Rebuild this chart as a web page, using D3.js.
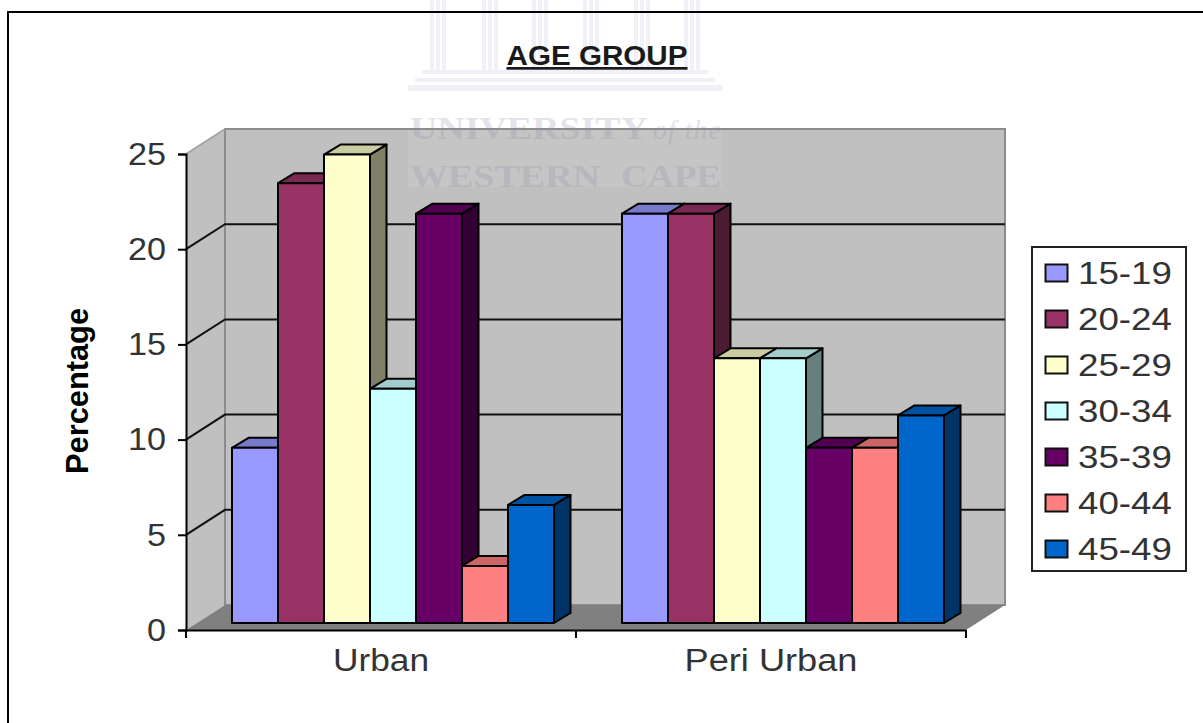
<!DOCTYPE html>
<html lang="en">
<head>
<meta charset="UTF-8">
<title>Age Group</title>
<style>
    html, body { margin: 0; padding: 0; background: #fff; }
    svg { display: block; }
    text { font-family: "Liberation Sans", Arial, sans-serif; fill: #333; }
</style>
<script src="https://d3js.org/d3.v7.min.js"></script>
</head>
<body>
<div id="chart"></div>
<script>
const categories = ["Urban", "Peri Urban"];
const ageGroups = ["15-19", "20-24", "25-29", "30-34", "35-39", "40-44", "45-49"];
const urbanValues = [9.2, 23.1, 24.6, 12.3, 21.5, 3.0, 6.2];
const periUrbanValues = [21.5, 21.5, 13.9, 13.9, 9.2, 9.2, 10.9];
const colors = ["#9999ff", "#993366", "#ffffcc", "#ccffff", "#660066", "#ff8080", "#0066cc"];
const yTicks = [0, 5, 10, 15, 20, 25];
const pillarGroups = [430, 482, 532, 583, 634, 684];

const width = 1203, height = 723;
const svg = d3.select("#chart").append("svg").attr("width", width).attr("height", height);

const y = d3.scaleLinear().domain([0, 25]).range([630, 154]);
const x = d3.scaleBand().domain(categories).range([186, 966]);
const inner = d3.scaleBand().domain(ageGroups).range([46, 368]);

// 3d offsets: wall depth and bar depth
const wallDx = 39, wallDy = -25;
const barDx = 16.5, barDy = -10;
const floorDy = -7;

function shade(c, k) {
    const r = d3.rgb(c);
    return d3.rgb(r.r * k, r.g * k, r.b * k).formatHex();
}
function poly(points) {
    return points.map(p => p.join(",")).join(" ");
}

// walls and floor
const x0 = x.range()[0], x1 = x.range()[1];
const yBase = y(0), yTop = y(25);

svg.append("polygon")
    .attr("points", poly([[x0, yTop], [x0 + wallDx, yTop + wallDy], [x0 + wallDx, yBase + wallDy], [x0, yBase]]))
    .attr("fill", "#c0c0c0");
svg.append("rect")
    .attr("x", x0 + wallDx).attr("y", yTop + wallDy)
    .attr("width", x1 - x0).attr("height", yBase - yTop)
    .attr("fill", "#c0c0c0").attr("stroke", "#8c8c8c").attr("stroke-width", 2);
svg.append("polygon")
    .attr("points", poly([[x0, yBase], [x0 + wallDx, yBase + wallDy], [x1 + wallDx, yBase + wallDy], [x1, yBase]]))
    .attr("fill", "#808080");
svg.append("line")
    .attr("x1", x0).attr("y1", yTop).attr("x2", x0 + wallDx).attr("y2", yTop + wallDy)
    .attr("stroke", "#a0a0a0").attr("stroke-width", 1.5);

// gridlines, diagonal on the side wall then across the back
const grid = svg.append("g").attr("fill", "none").attr("stroke", "#111").attr("stroke-width", 2);
yTicks.filter(t => t > 0 && t < 25).forEach(t => {
    grid.append("path")
        .attr("d", `M${x0},${y(t)}L${x0 + wallDx},${y(t) + wallDy}H${x1 + wallDx}`);
});

// watermark, sits behind the bars
const mark = svg.append("g");
mark.append("rect").attr("x", 408).attr("y", 130).attr("width", 314).attr("height", 57)
    .attr("fill", "#fff").attr("opacity", 0.08);
pillarGroups.forEach(px => {
    [0, 6, 12].forEach(off => {
        mark.append("rect").attr("x", px + off).attr("y", 0).attr("width", 4).attr("height", 70)
            .attr("fill", "#f0f0f7");
    });
});
[[422, 70, 286, 4], [415, 78, 300, 4], [408, 85, 314, 6]].forEach(s => {
    mark.append("rect").attr("x", s[0]).attr("y", s[1]).attr("width", s[2]).attr("height", s[3])
        .attr("fill", "#f0f0f7");
});
mark.append("text").attr("x", 410).attr("y", 139)
    .attr("textLength", 238).attr("lengthAdjust", "spacingAndGlyphs")
    .style("font-family", "'Liberation Serif', serif").style("font-weight", "bold")
    .style("font-size", "32px").style("fill", "#8c8ca8").attr("opacity", 0.24)
    .text("UNIVERSITY");
mark.append("text").attr("x", 653).attr("y", 139)
    .attr("textLength", 68).attr("lengthAdjust", "spacing")
    .style("font-family", "'Liberation Serif', serif").style("font-style", "italic")
    .style("font-size", "28px").style("fill", "#8c8ca8").attr("opacity", 0.24)
    .text("of the");
mark.append("text").attr("x", 410).attr("y", 187)
    .attr("textLength", 190).attr("lengthAdjust", "spacingAndGlyphs")
    .style("font-family", "'Liberation Serif', serif").style("font-weight", "bold")
    .style("font-size", "32px").style("fill", "#8c8ca8").attr("opacity", 0.24)
    .text("WESTERN");
mark.append("text").attr("x", 621).attr("y", 187)
    .attr("textLength", 100).attr("lengthAdjust", "spacingAndGlyphs")
    .style("font-family", "'Liberation Serif', serif").style("font-weight", "bold")
    .style("font-size", "32px").style("fill", "#8c8ca8").attr("opacity", 0.24)
    .text("CAPE");

// outer frame (bottom and right fall outside the picture)
svg.append("path")
    .attr("d", `M8,${height}V12H${width}`)
    .attr("fill", "none").attr("stroke", "#000").attr("stroke-width", 2);

// bars
const seriesByCategory = [urbanValues, periUrbanValues];
categories.forEach((cat, ci) => {
    const g = svg.append("g").attr("stroke", "#000").attr("stroke-width", 2).attr("stroke-linejoin", "round");
    ageGroups.forEach((age, i) => {
        const v = seriesByCategory[ci][i];
        const left = x(cat) + inner(age), w = inner.bandwidth();
        const right = left + w;
        const top = y(v) + floorDy, bottom = yBase + floorDy;
        // side face
        g.append("polygon")
            .attr("points", poly([[right, top], [right + barDx, top + barDy], [right + barDx, bottom + barDy], [right, bottom]]))
            .attr("fill", shade(colors[i], 0.5));
        // top face
        g.append("polygon")
            .attr("points", poly([[left, top], [left + barDx, top + barDy], [right + barDx, top + barDy], [right, top]]))
            .attr("fill", shade(colors[i], 0.8));
        // front face
        g.append("rect")
            .attr("x", left).attr("y", top).attr("width", w).attr("height", bottom - top)
            .attr("fill", colors[i]);
    });
});

// axes
const yAxis = svg.append("g").attr("transform", `translate(${x0},0)`)
    .call(d3.axisLeft(y).tickValues(yTicks).tickSize(8).tickPadding(12));
yAxis.select(".domain").attr("stroke", "#000").attr("stroke-width", 2);
yAxis.selectAll(".tick line").attr("stroke", "#000").attr("stroke-width", 2);
yAxis.selectAll("text")
    .style("font-size", "32px").style("font-family", "'Liberation Sans', sans-serif").attr("fill", "#333")
    .attr("textLength", d => String(d).length * 19).attr("lengthAdjust", "spacingAndGlyphs");

const xAxis = svg.append("g").attr("transform", `translate(0,${yBase})`)
    .call(d3.axisBottom(x).tickSize(0).tickPadding(19));
xAxis.select(".domain").attr("stroke", "#000").attr("stroke-width", 2);
xAxis.selectAll("text")
    .style("font-size", "31px").style("font-family", "'Liberation Sans', sans-serif").attr("fill", "#333")
    .attr("textLength", d => d === "Urban" ? 96 : 173).attr("lengthAdjust", "spacingAndGlyphs");
categories.concat([null]).forEach(cat => {
    const tx = cat === null ? x1 : x(cat);
    svg.append("line").attr("x1", tx).attr("x2", tx).attr("y1", yBase).attr("y2", yBase + 8)
        .attr("stroke", "#000").attr("stroke-width", 2);
});

// titles
svg.append("text").attr("x", 597).attr("y", 65).attr("text-anchor", "middle")
    .attr("textLength", 181).attr("lengthAdjust", "spacingAndGlyphs")
    .style("font-size", "27px").style("font-weight", "bold").style("text-decoration", "underline").style("fill", "#1a1a1a")
    .text("AGE GROUP");
svg.append("text").attr("transform", "translate(88,391) rotate(-90)").attr("text-anchor", "middle")
    .attr("textLength", 166).attr("lengthAdjust", "spacingAndGlyphs")
    .style("font-size", "31px").style("font-weight", "bold").style("fill", "#000")
    .text("Percentage");

// legend
const legendRow = d3.scalePoint().domain(ageGroups).range([273, 549]);
svg.append("rect").attr("x", 1032).attr("y", 247).attr("width", 154).attr("height", 324)
    .attr("fill", "#fff").attr("stroke", "#222").attr("stroke-width", 2);
ageGroups.forEach((age, i) => {
    svg.append("rect").attr("x", 1045.5).attr("y", legendRow(age) - 8.5).attr("width", 22).attr("height", 17)
        .attr("fill", colors[i]).attr("stroke", "#111").attr("stroke-width", 2);
    svg.append("text").attr("x", 1078).attr("y", legendRow(age) + 11)
        .attr("textLength", 94).attr("lengthAdjust", "spacingAndGlyphs")
        .style("font-size", "31px")
        .text(age);
});
</script>
</body>
</html>
